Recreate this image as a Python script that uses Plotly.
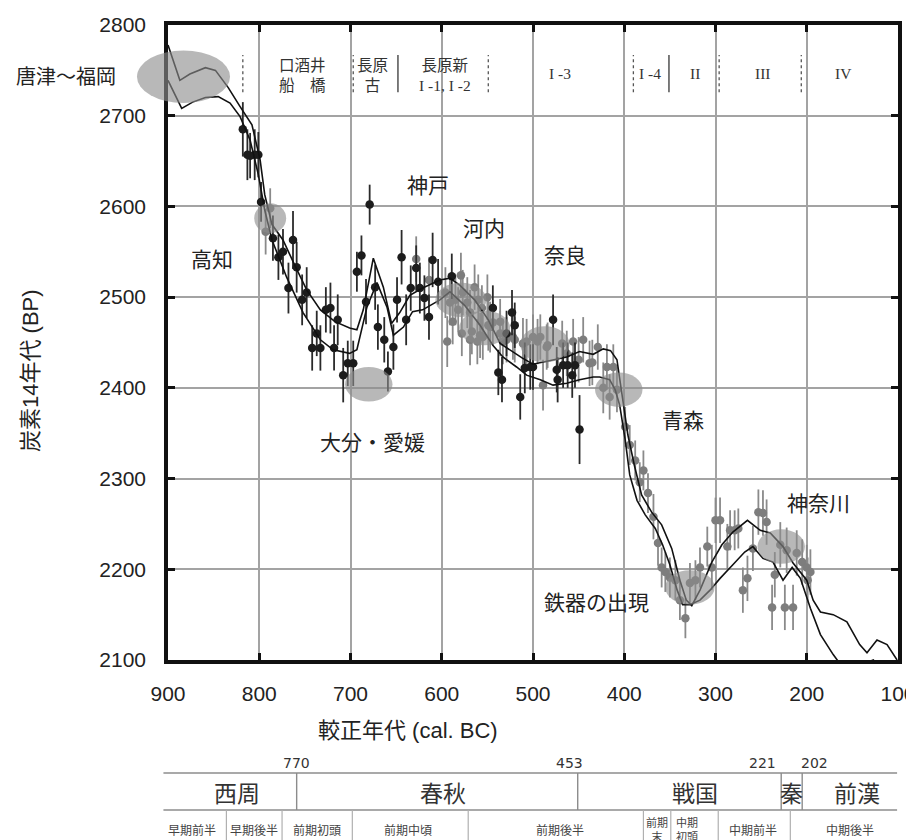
import plotly.graph_objects as go

# ---------------- data ----------------
# calibration curve, upper envelope (cal BC, 14C BP)
hi_yr = [900, 887, 876, 859, 848, 834, 821, 808, 799, 794, 786, 774, 761, 748, 733, 717, 701, 693, 686, 675,
         664, 655, 646, 635, 621, 602, 591, 580, 564, 549, 536, 523, 512, 500, 481, 463, 449, 434, 423, 415,
         408, 402, 396, 389, 381, 370, 359, 348, 339, 332, 326, 317, 304, 293, 281, 265, 251, 240, 226, 215,
         200, 193, 185, 171, 156, 142, 134, 123, 112, 101]
hi_bp = [2778, 2739, 2746, 2753, 2750, 2731, 2710, 2690, 2651, 2613, 2580, 2563, 2535, 2508, 2486, 2473, 2466, 2464, 2486, 2543,
         2511, 2471, 2483, 2502, 2510, 2519, 2521, 2513, 2497, 2475, 2449, 2440, 2433, 2426, 2430, 2434, 2440, 2437, 2443, 2441,
         2431, 2392, 2348, 2315, 2282, 2263, 2249, 2223, 2188, 2166, 2160, 2177, 2208, 2227, 2241, 2254, 2243, 2240, 2225, 2207,
         2188, 2166, 2153, 2150, 2142, 2117, 2108, 2122, 2117, 2100]
# lower envelope
lo_yr = [900, 885, 873, 859, 845, 832, 821, 810, 801, 794, 786, 770, 752, 733, 719, 701, 693, 682, 671, 660,
         653, 642, 632, 621, 602, 591, 575, 558, 544, 533, 518, 507, 492, 478, 463, 449, 434, 427, 416, 410,
         405, 399, 394, 386, 377, 366, 358, 350, 342, 336, 328, 317, 306, 295, 281, 268, 259, 248, 237, 226,
         216, 207, 196, 185, 171, 160, 149, 138, 127, 116, 105]
lo_bp = [2739, 2708, 2715, 2720, 2721, 2714, 2699, 2673, 2635, 2596, 2563, 2522, 2483, 2453, 2442, 2438, 2442, 2489, 2516, 2489,
         2458, 2467, 2484, 2486, 2497, 2506, 2491, 2469, 2447, 2434, 2423, 2414, 2409, 2403, 2405, 2409, 2412, 2412, 2409, 2398,
         2381, 2343, 2304, 2276, 2260, 2245, 2227, 2205, 2177, 2161, 2161, 2166, 2177, 2190, 2205, 2219, 2225, 2212, 2208, 2188,
         2202, 2190, 2157, 2128, 2106, 2091, 2087, 2096, 2100, 2087, 2076]

# black samples
blk_yr = [818, 813, 810, 805, 801, 798, 785, 779, 774, 763, 759, 768, 748, 753, 742, 737, 733, 727, 722, 718,
          714, 708, 703, 697, 693, 688, 683, 679, 673, 670, 663, 659, 653, 649, 644, 639, 634, 628, 624, 619,
          614, 610, 604, 589, 544, 538, 534, 523, 520, 514, 509, 503, 500, 529, 478, 474, 473, 467, 462, 457,
          454, 449]
blk_bp = [2685, 2657, 2656, 2657, 2657, 2605, 2565, 2544, 2550, 2563, 2533, 2510, 2505, 2497, 2444, 2460, 2444, 2486, 2488, 2444,
          2475, 2414, 2427, 2427, 2528, 2546, 2495, 2602, 2511, 2467, 2453, 2418, 2445, 2497, 2544, 2475, 2510, 2532, 2510, 2499,
          2478, 2541, 2517, 2523, 2488, 2417, 2409, 2483, 2469, 2390, 2422, 2423, 2423, 2460, 2475, 2420, 2409, 2425, 2425, 2414,
          2425, 2354]
blk_err = [30, 28, 25, 28, 25, 22, 25, 25, 25, 32, 28, 28, 28, 28, 25, 25, 25, 25, 28, 25,
           28, 30, 25, 25, 22, 22, 25, 22, 25, 25, 25, 22, 25, 25, 30, 28, 25, 25, 28, 25,
           25, 30, 25, 25, 25, 25, 25, 25, 25, 25, 28, 25, 25, 25, 28, 25, 25, 25, 25, 25,
           25, 38]

# grey samples
gry_yr = [788, 793, 628, 614, 579,
          596, 591, 585, 582, 577, 572, 569, 564, 560, 556, 550, 547, 544, 594, 588, 578, 569, 561, 555, 567,
          558, 549, 536, 533, 522, 520, 511, 507, 500, 495, 489, 485, 492, 484, 468, 463, 456, 450, 445, 438,
          435, 429, 419, 412, 423, 416, 408, 536, 529,
          399, 394, 388, 379, 383, 374, 368, 363, 359, 355, 350, 344, 339, 333, 328, 322, 317, 309, 304, 300,
          295, 287, 284, 279, 275, 270, 265, 259, 253, 248, 244, 235, 238, 224, 215, 229, 222, 211, 205, 200,
          196, 199]
gry_bp = [2598, 2572, 2542, 2519, 2524,
          2505, 2494, 2497, 2486, 2505, 2494, 2483, 2511, 2497, 2488, 2500, 2467, 2472, 2451, 2473, 2460, 2453, 2451, 2456, 2462,
          2458, 2469, 2460, 2451, 2456, 2453, 2449, 2451, 2456, 2451, 2403, 2445, 2456, 2447, 2449, 2438, 2451, 2431, 2453, 2427,
          2428, 2445, 2423, 2423, 2400, 2390, 2398, 2473, 2453,
          2357, 2337, 2320, 2309, 2296, 2284, 2258, 2229, 2202, 2197, 2191, 2188, 2166, 2146, 2185, 2188, 2202, 2225, 2202, 2254,
          2254, 2225, 2243, 2243, 2245, 2177, 2190, 2223, 2263, 2262, 2252, 2194, 2158, 2158, 2158, 2227, 2221, 2218, 2208, 2202,
          2197, 2188]
gry_err = [22, 25, 25, 25, 25,
           28, 25, 28, 25, 25, 28, 25, 25, 28, 25, 25, 28, 25, 28, 25, 25, 28, 25, 25, 25,
           25, 28, 25, 25, 25, 25, 28, 25, 25, 25, 28, 25, 25, 25, 25, 25, 25, 25, 25, 25,
           25, 25, 25, 25, 28, 25, 25, 25, 25,
           22, 22, 22, 22, 22, 22, 25, 25, 22, 22, 22, 22, 22, 22, 22, 22, 22, 22, 25, 25,
           25, 25, 22, 22, 22, 25, 25, 25, 25, 25, 25, 25, 25, 25, 25, 25, 25, 25, 25, 25,
           25, 25]

# grey regional ellipses: centre year, centre BP, half-width (yr), half-height (BP)
ell_cx = [883, 788, 680, 579, 553, 487, 406, 328, 228]
ell_cy = [2743, 2587, 2404, 2497, 2466, 2448, 2398, 2180, 2225]
ell_rx = [51, 17.5, 26, 28, 28, 27, 26, 27, 26]
ell_ry = [29, 16.5, 19, 19, 19, 20, 19, 19, 19]

# region labels
site_txt = ["高知", "神戸", "河内", "奈良", "大分・愛媛", "青森", "鉄器の出現", "神奈川"]
site_yr = [852, 615, 554, 465, 676, 336, 430, 187]
site_bp = [2543, 2625, 2577, 2548, 2341, 2366, 2165, 2274]

# header (pottery phases)
SERIF = "Liberation Serif, DejaVu Serif, Noto Sans CJK JP, serif"
hdr_txt = ["口酒井<br>船　橋", "長原<br>古",
           "長原新<br><span style=\"font-family:Liberation Serif, serif\">I -1, I -2</span>",
           "I -3", "I -4", "II", "III", "IV"]
hdr_yr = [753, 676, 596, 470, 372, 322, 248, 160]
hdr_dot_yr = [818, 697, 549, 390, 296, 206]
hdr_solid_yr = [648, 351]

# table of Chinese periods
period_year_txt = ["770", "453", "221", "202"]
period_year_pos = [759, 460, 248, 191]
period_txt = ["西周", "春秋", "戦国", "秦", "前漢"]
period_pos = [824, 599, 322, 217, 145]
period_div = [759, 451, 228, 205]
sub_txt = ["早期前半", "早期後半", "前期初頭", "前期中頃", "前期後半", "前期<br>末", "中期<br>初頭", "中期前半", "中期後半"]
sub_pos = [874, 806, 737, 637, 470, 364, 331, 259, 153]
sub_div = [836, 775, 698, 571, 379, 349, 297, 218]
table_edges = [905, 101]

# ---------------- figure ----------------
X0, X1 = 900, 100
Y0, Y1 = 2100, 2800
PAGE_OFF = 8                      # default body margin of the html page
PLOT_LEFT, PLOT_RIGHT = 168, 898  # page pixels of the plotting area
PLOT_TOP, PLOT_BOTTOM = 25, 660
FIG_W, FIG_H = 914 - PAGE_OFF, 840 - PAGE_OFF


def xp(yr):
    return (X0 - yr) / (X0 - X1)


def ypx(py):
    return (PLOT_BOTTOM - py) / (PLOT_BOTTOM - PLOT_TOP)


def xpx(px):
    return (px - PLOT_LEFT) / (PLOT_RIGHT - PLOT_LEFT)


def yp(bp):
    return (bp - Y0) / (Y1 - Y0)


JP = "Noto Sans CJK JP, sans-serif"
SANS = "Liberation Sans, Arial, Noto Sans CJK JP, sans-serif"

fig = go.Figure()

fig.add_trace(go.Scatter(
    x=gry_yr, y=gry_bp, mode="markers",
    marker=dict(size=8.5, color="#7d7d7d"),
    error_y=dict(type="data", array=gry_err, visible=True, thickness=1.8, width=0, color="#8a8a8a"),
    showlegend=False, hoverinfo="skip"))
fig.add_trace(go.Scatter(
    x=blk_yr, y=blk_bp, mode="markers",
    marker=dict(size=8.5, color="#1c1c1c"),
    error_y=dict(type="data", array=blk_err, visible=True, thickness=1.8, width=0, color="#2a2a2a"),
    showlegend=False, hoverinfo="skip"))
fig.add_trace(go.Scatter(x=hi_yr, y=hi_bp, mode="lines", line=dict(color="#111", width=1.6),
                         showlegend=False, hoverinfo="skip"))
fig.add_trace(go.Scatter(x=lo_yr, y=lo_bp, mode="lines", line=dict(color="#111", width=1.6),
                         showlegend=False, hoverinfo="skip"))

shapes = []
for cx, cy, rx, ry in zip(ell_cx, ell_cy, ell_rx, ell_ry):
    shapes.append(dict(type="circle", xref="paper", yref="paper",
                       x0=xp(cx + rx), x1=xp(cx - rx), y0=yp(cy - ry), y1=yp(cy + ry),
                       fillcolor="rgba(140,140,140,0.62)", line=dict(width=0), layer="above"))

for yr in hdr_dot_yr:
    shapes.append(dict(type="line", xref="x", yref="y", x0=yr, x1=yr, y0=2726, y1=2767,
                       line=dict(color="#555", width=1.3, dash="dot")))
for yr in hdr_solid_yr:
    shapes.append(dict(type="line", xref="x", yref="y", x0=yr, x1=yr, y0=2726, y1=2767,
                       line=dict(color="#444", width=1.4)))

# table lines
tl_color = "#8c8c8c"
for py in (773, 810):
    shapes.append(dict(type="line", xref="paper", yref="paper", x0=xp(table_edges[0]), x1=xp(table_edges[1]),
                       y0=ypx(py), y1=ypx(py), line=dict(color=tl_color, width=1.6)))
for yr in period_div:
    shapes.append(dict(type="line", xref="paper", yref="paper", x0=xp(yr), x1=xp(yr),
                       y0=ypx(773), y1=ypx(810), line=dict(color=tl_color, width=1.4)))
for yr in sub_div:
    shapes.append(dict(type="line", xref="paper", yref="paper", x0=xp(yr), x1=xp(yr),
                       y0=ypx(810), y1=ypx(845), line=dict(color="#b0b0b0", width=1.2)))

ann = []


def note(text, x, y, xref="paper", yref="paper", size=20, family=JP, color="#222", **kw):
    d = dict(text=text, x=x, y=y, xref=xref, yref=yref, showarrow=False,
             xanchor=kw.pop("xanchor", "center"), yanchor=kw.pop("yanchor", "middle"),
             font=dict(family=family, size=size, color=color))
    d.update(kw)
    ann.append(d)


note("唐津〜福岡", xpx(118), 2744, yref="y", xanchor="right", size=20)
for t, x, y in zip(site_txt, site_yr, site_bp):
    note(t, x, y, xref="x", yref="y", size=21)
for t, x in zip(hdr_txt, hdr_yr):
    fam = SERIF if t[0] == "I" else JP
    note(t, x, 2746, xref="x", yref="y", size=15.5, family=fam, color="#333")
for t, x in zip(period_year_txt, period_year_pos):
    note(t, xp(x), ypx(763), size=14, family="DejaVu Sans, sans-serif", color="#333")
for t, x in zip(period_txt, period_pos):
    note(t, xp(x), ypx(792), size=23, color="#333")
for t, x in zip(sub_txt, sub_pos):
    two = "<br>" in t
    note(t, xp(x), ypx(829), size=11 if two else 12, color="#444")

note("炭素14年代 (BP)", xpx(30), ypx(371), size=22, family=SANS, textangle=-90)
note("較正年代 (cal. BC)", xpx(408), ypx(730), size=22, family=SANS)

fig.update_layout(
    width=FIG_W, height=FIG_H,
    margin=dict(l=PLOT_LEFT - PAGE_OFF, r=PAGE_OFF + FIG_W - PLOT_RIGHT,
                t=PLOT_TOP - PAGE_OFF, b=PAGE_OFF + FIG_H - PLOT_BOTTOM, autoexpand=False),
    paper_bgcolor="white", plot_bgcolor="white",
    shapes=shapes, annotations=ann,
    showlegend=False,
)
axis_common = dict(showline=True, linewidth=3.5, linecolor="#111", mirror="ticks",
                   ticks="inside", ticklen=7, tickwidth=2.5, tickcolor="#111",
                   showgrid=True, gridcolor="#a3a3a3", gridwidth=1.8, zeroline=False,
                   ticklabeloverflow="allow",
                   tickfont=dict(family=SANS, size=21, color="#222"))
fig.update_xaxes(range=[X0, X1], dtick=100, tick0=100, ticklabelstandoff=12, **axis_common)
fig.update_yaxes(range=[Y0, Y1], dtick=100, tick0=2100, ticklabelstandoff=14, **axis_common)

fig.write_html("out.html")
